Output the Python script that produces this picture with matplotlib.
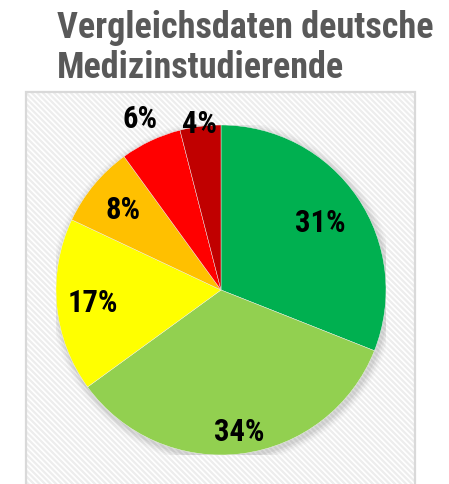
import matplotlib
matplotlib.use("Agg")
import matplotlib.pyplot as plt
import numpy as np
from matplotlib.patches import Rectangle, Circle

title_lines = ["Vergleichsdaten deutsche", "Medizinstudierende"]
values = [31, 34, 17, 8, 6, 4]
labels = ["31%", "34%", "17%", "8%", "6%", "4%"]
colors = ["#00B050", "#92D050", "#FFFF00", "#FFC000", "#FF0000", "#C00000"]
label_radius = [0.73, 0.86, 0.78, 0.77, 1.15, 1.02]

W, H = 449, 485
fig = plt.figure(figsize=(W / 100, H / 100), dpi=100)
fig.patch.set_facecolor("white")

plt.rcParams["hatch.color"] = "#ededed"
plt.rcParams["hatch.linewidth"] = 1.6

font = ["Roboto Condensed", "DejaVu Sans"]

# background box
bx0, bx1, by0 = 26, 415, 93
bg = Rectangle((bx0 / W, 0), (bx1 - bx0) / W, (H - by0) / H, transform=fig.transFigure,
               facecolor="white", edgecolor="#ededed", hatch="\\" * 6, linewidth=0, zorder=0)
fig.patches.append(bg)
border = Rectangle((bx0 / W, -0.01), (bx1 - bx0) / W, (H - by0) / H + 0.01, transform=fig.transFigure,
                   facecolor="none", edgecolor="#d9d9d9", linewidth=1.6, zorder=1)
fig.patches.append(border)

# title
fig.text(57 / W, 1 - 10 / H, title_lines[0] + "\n" + title_lines[1], ha="left", va="top",
         fontsize=26, fontweight="bold", color="#595959", family=font, linespacing=1.14)

# pie
cx, cy, r = 221, 291, 165
ax = fig.add_axes([(cx - r) / W, (H - cy - r) / H, 2 * r / W, 2 * r / H])
ax.set_zorder(5)
ax.patch.set_visible(False)

# soft shadow
for i, a in enumerate([0.05, 0.04, 0.03, 0.02]):
    ax.add_patch(Circle((0.01, -0.015), 1.0 + 0.012 * (i + 1), facecolor="black", alpha=a,
                        edgecolor="none", zorder=0))

wedges, _ = ax.pie(values, colors=colors, startangle=90, counterclock=False, radius=1.0,
                   wedgeprops=dict(edgecolor="#f2f2f2", linewidth=0.3))
for w in wedges:
    w.set_zorder(2)
ax.set_xlim(-1, 1)
ax.set_ylim(-1, 1)
ax.axis("off")

cum = 0
for v, lab, lr in zip(values, labels, label_radius):
    mid = 90 - (cum + v / 2) / sum(values) * 360
    cum += v
    ang = np.deg2rad(mid)
    ax.text(lr * np.cos(ang), lr * np.sin(ang), lab, ha="center", va="center",
            fontsize=22, fontweight="bold", color="black", family=font, zorder=5)

fig.savefig("out.png", dpi=100)
